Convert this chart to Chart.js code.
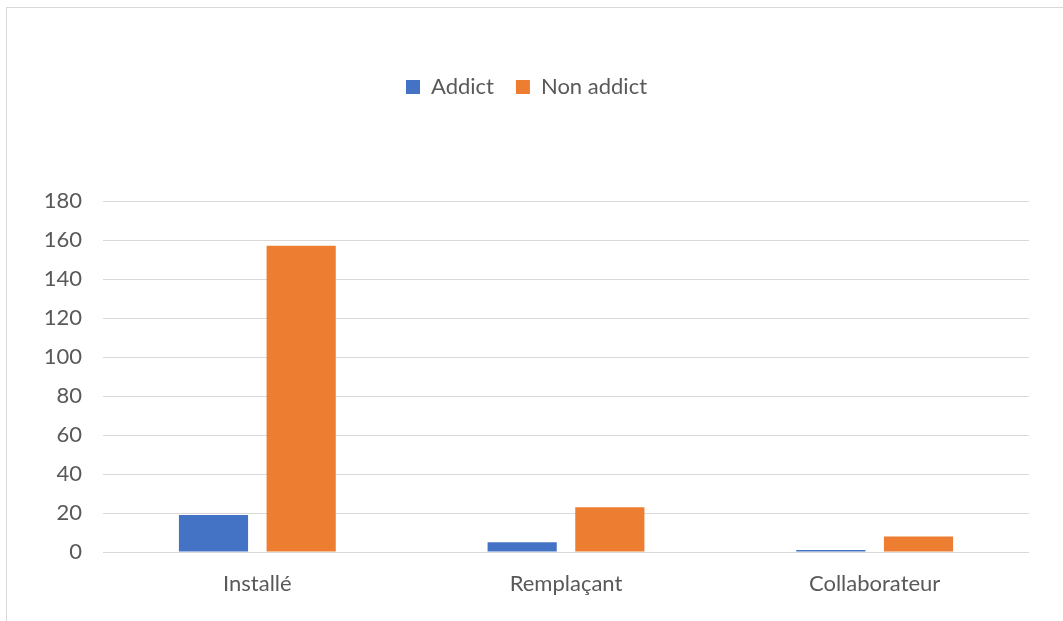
<!DOCTYPE html>
<html>
<head>
<meta charset="utf-8">
<script src="https://cdn.jsdelivr.net/npm/chart.js@4"></script>
<style>
  html, body { margin: 0; padding: 0; background: #ffffff; overflow: hidden; }
  #frame {
    position: absolute; left: 6px; top: 7px; width: 2000px; height: 2000px;
    border-top: 1px solid #d9d9d9; border-left: 1px solid #d9d9d9;
  }
  #chart { position: absolute; left: 0; top: 0; }
</style>
</head>
<body>
<div id="frame"></div>
<canvas id="chart" width="1063" height="621"></canvas>
<script>
// Categories and series
const categories = ['Installé', 'Remplaçant', 'Collaborateur'];
const addict = [19, 5, 1];
const nonAddict = [157, 23, 8];
const seriesNames = ['Addict', 'Non addict'];
const yTicks = { min: 0, max: 180, step: 20 };

const FONT = 'Lato, "Open Sans", sans-serif';
const TEXT = '#595959';
const GRID = '#d9d9d9';

// Reserve room under the legend so the plot starts lower on the canvas
const legendSpace = {
  id: 'legendSpace',
  beforeInit(chart) {
    const fit = chart.legend.fit;
    chart.legend.fit = function () {
      fit.bind(chart.legend)();
      this.height = 147;
    };
  }
};

new Chart(document.getElementById('chart'), {
  type: 'bar',
  data: {
    labels: categories,
    datasets: [
      { label: seriesNames[0], data: addict, backgroundColor: '#4472C4',
        categoryPercentage: 0.568, barPercentage: 0.789 },
      { label: seriesNames[1], data: nonAddict, backgroundColor: '#ED7D31',
        categoryPercentage: 0.568, barPercentage: 0.789 }
    ]
  },
  options: {
    responsive: false,
    animation: false,
    layout: { padding: { left: 24, right: 34, top: 54, bottom: 0 } },
    plugins: {
      legend: {
        position: 'top',
        labels: {
          color: TEXT,
          font: { family: FONT, size: 22 },
          boxWidth: 14, boxHeight: 14, padding: 22
        }
      },
      tooltip: { enabled: false }
    },
    scales: {
      x: {
        grid: { display: false, drawTicks: false },
        border: { display: false },
        ticks: { color: TEXT, font: { family: FONT, size: 22 }, padding: 19 },
        afterFit(scale) { scale.height = 69; }
      },
      y: {
        min: yTicks.min, max: yTicks.max,
        grid: { color: GRID, lineWidth: 1, drawTicks: false },
        border: { display: false },
        ticks: { stepSize: yTicks.step, color: TEXT, font: { family: FONT, size: 22 }, padding: 21 },
        afterFit(scale) { scale.width = 79; }
      }
    }
  },
  plugins: [legendSpace]
});
</script>
</body>
</html>
